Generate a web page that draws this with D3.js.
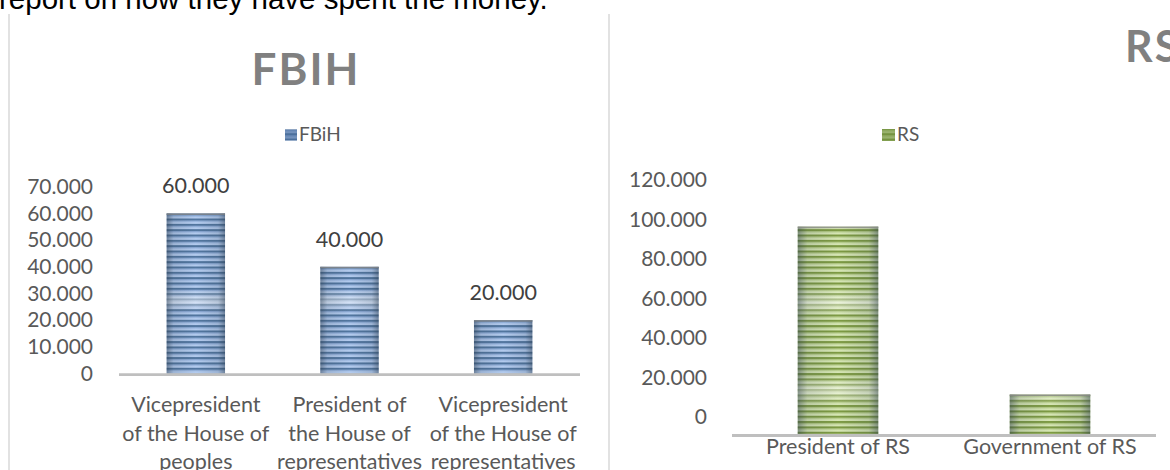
<!DOCTYPE html>
<html>
<head>
<meta charset="utf-8">
<script src="https://cdn.jsdelivr.net/npm/d3@7"></script>
<style>
  body { margin: 0; background: #fff; overflow: hidden; }
  svg { display: block; }
</style>
</head>
<body>
<script>
const w = 1170;
const h = 470;

// chart data
const fbihCategories = [
  "Vicepresident of the House of peoples",
  "President of the House of representatives",
  "Vicepresident of the House of representatives",
];
const fbihLabelLines = [
  ["Vicepresident", "of the House of", "peoples"],
  ["President of", "the House of", "representatives"],
  ["Vicepresident", "of the House of", "representatives"],
];
const fbihValues = [60000, 40000, 20000];
const fbihTicks = [0, 10000, 20000, 30000, 40000, 50000, 60000, 70000];

const rsCategories = ["President of RS", "Government of RS"];
const rsValues = [105000, 20000];
const rsTicks = [0, 20000, 40000, 60000, 80000, 100000, 120000];

// "60.000" style numbers
const fmt = d3
  .formatLocale({ decimal: ",", thousands: ".", grouping: [3], currency: ["", ""] })
  .format(",d");

const font = "Lato, 'Open Sans', sans-serif";
const textGray = "#595959";

const svg = d3.select("body").append("svg").attr("width", w).attr("height", h);
const defs = svg.append("defs");

// striped fills
function stripes(id, light, dark, mid) {
  const p = defs
    .append("pattern")
    .attr("id", id)
    .attr("patternUnits", "userSpaceOnUse")
    .attr("width", 20)
    .attr("height", 5.33);
  p.append("rect").attr("width", 20).attr("height", 5.33).attr("fill", light);
  p.append("rect").attr("y", 0).attr("width", 20).attr("height", 2.1).attr("fill", dark);
  p.append("rect").attr("y", 2.1).attr("width", 20).attr("height", 0.9).attr("fill", mid);
}
stripes("blueStripe", "#b3cbee", "#52769f", "#7f9fcf");
stripes("greenStripe", "#d6e6b4", "#7d9a43", "#a8c177");

// darker sides of the bars
const side = defs
  .append("linearGradient")
  .attr("id", "sideShade")
  .attr("x1", 0)
  .attr("x2", 1)
  .attr("y1", 0)
  .attr("y2", 0);
[
  [0, 0.5],
  [0.12, 0.15],
  [0.5, 0],
  [0.88, 0.15],
  [1, 0.5],
].forEach(([o, a]) => {
  side.append("stop").attr("offset", o).attr("stop-color", "#2a3a4a").attr("stop-opacity", a);
});

// whitish glow bands
function glow(id, y1, y2, peaks) {
  const g = defs
    .append("linearGradient")
    .attr("id", id)
    .attr("gradientUnits", "userSpaceOnUse")
    .attr("x1", 0)
    .attr("x2", 0)
    .attr("y1", y1)
    .attr("y2", y2);
  g.append("stop").attr("offset", 0).attr("stop-color", "#fff").attr("stop-opacity", 0);
  peaks.forEach((pk) => {
    g.append("stop").attr("offset", pk - 0.06).attr("stop-color", "#fff").attr("stop-opacity", 0);
    g.append("stop").attr("offset", pk).attr("stop-color", "#fff").attr("stop-opacity", 0.5);
    g.append("stop").attr("offset", pk + 0.06).attr("stop-color", "#fff").attr("stop-opacity", 0);
  });
  g.append("stop").attr("offset", 1).attr("stop-color", "#fff").attr("stop-opacity", 0);
}
glow("glowL", 200, 380, [0.56]);
glow("glowR", 220, 440, [0.375, 0.775]);

// text from the page above
svg
  .append("text")
  .attr("x", -1)
  .attr("y", 9)
  .attr("font-family", "'Liberation Sans', Arial, sans-serif")
  .attr("font-size", 29.5)
  .attr("fill", "#000")
  .text("report on how they have spent the money.");

// chart frames (left edges)
svg.append("line").attr("x1", 9).attr("x2", 9).attr("y1", 14).attr("y2", h)
  .attr("stroke", "#d9d9d9").attr("stroke-width", 1.5);
svg.append("line").attr("x1", 609).attr("x2", 609).attr("y1", 14).attr("y2", h)
  .attr("stroke", "#d9d9d9").attr("stroke-width", 1.5);

function drawBars(g, data, x, y, fill, glowId) {
  const bars = g.selectAll("g.bar").data(data).join("g").attr("class", "bar");
  bars.append("rect")
    .attr("x", (d) => x(d.cat))
    .attr("y", (d) => y(d.value))
    .attr("width", x.bandwidth())
    .attr("height", (d) => y(0) - y(d.value))
    .attr("fill", fill);
  bars.append("rect")
    .attr("x", (d) => x(d.cat))
    .attr("y", (d) => y(d.value))
    .attr("width", x.bandwidth())
    .attr("height", (d) => y(0) - y(d.value))
    .attr("fill", `url(#${glowId})`);
  bars.append("rect")
    .attr("x", (d) => x(d.cat))
    .attr("y", (d) => y(d.value))
    .attr("width", x.bandwidth())
    .attr("height", (d) => y(0) - y(d.value))
    .attr("fill", "url(#sideShade)");
  bars.append("rect")
    .attr("x", (d) => x(d.cat))
    .attr("y", (d) => y(d.value))
    .attr("width", x.bandwidth())
    .attr("height", 1.5)
    .attr("fill", "#8a8a8a")
    .attr("opacity", 0.8);
}

// ---------- FBIH ----------
const fbihData = fbihCategories.map((c, i) => ({ cat: c, value: fbihValues[i], lines: fbihLabelLines[i] }));

const xL = d3.scaleBand().domain(fbihCategories).range([119, 580]).paddingInner(0.62).paddingOuter(0.31);
const yL = d3.scaleLinear().domain([0, 70000]).range([373.5, 186.7]);

const left = svg.append("g");

left.append("text")
  .attr("x", 306)
  .attr("y", 85)
  .attr("text-anchor", "middle")
  .attr("font-family", font)
  .attr("font-weight", "bold")
  .attr("font-size", 44)
  .attr("letter-spacing", 2)
  .attr("fill", "#808080")
  .text("FBIH");

left.append("rect").attr("x", 285).attr("y", 129.5).attr("width", 12).attr("height", 11).attr("fill", "url(#blueStripe)");
left.append("rect").attr("x", 285).attr("y", 129.5).attr("width", 12).attr("height", 11).attr("fill", "#4a6c9b").attr("opacity", 0.6);
left.append("text").attr("x", 299).attr("y", 141)
  .attr("font-family", font).attr("font-size", 19).attr("fill", textGray).text("FBiH");

// y axis labels
left.append("g")
  .attr("transform", "translate(93,0)")
  .call(d3.axisLeft(yL).tickValues(fbihTicks).tickFormat((d) => fmt(d)).tickSize(0).tickPadding(0))
  .call((g) => g.select(".domain").remove())
  .selectAll("text")
  .attr("font-family", font)
  .attr("font-size", 21)
  .attr("fill", textGray);

drawBars(left, fbihData, xL, yL, "url(#blueStripe)", "glowL");

// axis line
left.append("line").attr("x1", 119).attr("x2", 580).attr("y1", yL(0) + 1.2).attr("y2", yL(0) + 1.2)
  .attr("stroke", "#bfbfbf").attr("stroke-width", 2.8);

// data labels
left.selectAll("text.val").data(fbihData).join("text").attr("class", "val")
  .attr("x", (d) => xL(d.cat) + xL.bandwidth() / 2)
  .attr("y", (d) => yL(d.value) - 20)
  .attr("text-anchor", "middle")
  .attr("font-family", font)
  .attr("font-size", 21.5)
  .attr("fill", "#404040")
  .text((d) => fmt(d.value));

// category labels (wrapped)
const catL = left.selectAll("text.cat").data(fbihData).join("text").attr("class", "cat")
  .attr("text-anchor", "middle")
  .attr("font-family", font)
  .attr("font-size", 21.5)
  .attr("fill", textGray);
catL.selectAll("tspan").data((d) => d.lines.map((l) => ({ l, cx: xL(d.cat) + xL.bandwidth() / 2 })))
  .join("tspan")
  .attr("x", (t) => t.cx)
  .attr("y", (t, i) => 412 + i * 28.5)
  .text((t) => t.l);

// ---------- RS ----------
const rsData = rsCategories.map((c, i) => ({ cat: c, value: rsValues[i] }));

const xR = d3.scaleBand().domain(rsCategories).range([732, 1156]).paddingInner(0.62).paddingOuter(0.31);
const yR = d3.scaleLinear().domain([0, 120000]).range([434, 197]);

const right = svg.append("g");

right.append("text")
  .attr("x", 1125)
  .attr("y", 62)
  .attr("font-family", font)
  .attr("font-weight", "bold")
  .attr("font-size", 43)
  .attr("letter-spacing", 2)
  .attr("fill", "#808080")
  .text("RS");

right.append("rect").attr("x", 882).attr("y", 129).attr("width", 13).attr("height", 12).attr("fill", "url(#greenStripe)");
right.append("rect").attr("x", 882).attr("y", 129).attr("width", 13).attr("height", 12).attr("fill", "#6f8f3f").attr("opacity", 0.6);
right.append("text").attr("x", 897).attr("y", 140.5)
  .attr("font-family", font).attr("font-size", 19).attr("fill", textGray).text("RS");

// tick labels sit a bit above their values in the reference
right.append("g")
  .attr("transform", "translate(707,-17)")
  .call(d3.axisLeft(yR).tickValues(rsTicks).tickFormat((d) => fmt(d)).tickSize(0).tickPadding(0))
  .call((g) => g.select(".domain").remove())
  .selectAll("text")
  .attr("font-family", font)
  .attr("font-size", 21)
  .attr("fill", textGray);

drawBars(right, rsData, xR, yR, "url(#greenStripe)", "glowR");

right.append("line").attr("x1", 732).attr("x2", 1156).attr("y1", yR(0) + 1.5).attr("y2", yR(0) + 1.5)
  .attr("stroke", "#bfbfbf").attr("stroke-width", 2.8);

right.selectAll("text.cat").data(rsData).join("text").attr("class", "cat")
  .attr("x", (d) => xR(d.cat) + xR.bandwidth() / 2)
  .attr("y", 454)
  .attr("text-anchor", "middle")
  .attr("font-family", font)
  .attr("font-size", 21.5)
  .attr("fill", textGray)
  .text((d) => d.cat);
</script>
</body>
</html>
